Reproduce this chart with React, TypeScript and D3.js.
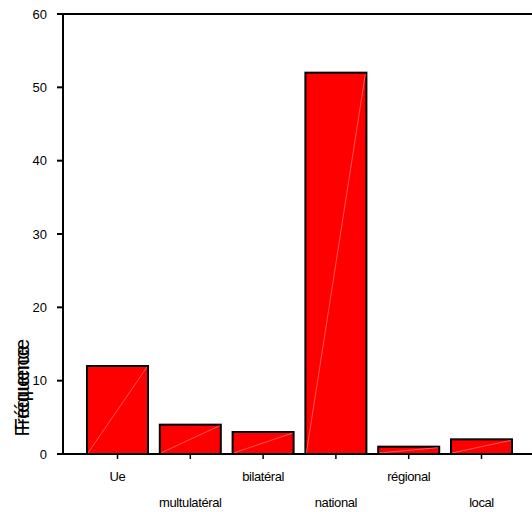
import React from "react";
import * as d3 from "d3";

const categories = ["Ue", "multulatéral", "bilatéral", "national", "régional", "local"];
const values = [12, 4, 3, 52, 1, 2];
const yTicks = [0, 10, 20, 30, 40, 50, 60];
const yTitle = "Fréquence";

export default function App() {
  const W = 532, H = 512;
  const x0 = 63, x1 = 532, yTop = 14, yBottom = 454;
  const y = d3.scaleLinear().domain([0, 60]).range([yBottom, yTop]);
  const x = d3.scaleBand<string>().domain(categories).range([81.1, 517.9]).paddingInner(0.162).paddingOuter(0.081);
  const font = "Arial, 'Liberation Sans', sans-serif";
  return (
    <svg width={W} height={H} style={{ position: "absolute", left: 0, top: 0, background: "#fff" }}>
      {/* top frame line */}
      <line x1={x0} x2={x1} y1={yTop} y2={yTop} stroke="#000" strokeWidth={2} />
      {/* bars */}
      {categories.map((c, i) => {
        const bx = x(c)!;
        const bw = x.bandwidth();
        const by = y(values[i]);
        return (
          <g key={c}>
            <rect x={bx} y={by} width={bw} height={yBottom - by} fill="#ff0000" stroke="#000" strokeWidth={2} />
            <line x1={bx + 1} y1={yBottom - 1} x2={bx + bw - 1} y2={by + 1} stroke="#ff9090" strokeWidth={0.6} />
          </g>
        );
      })}
      {/* y axis */}
      <line x1={x0} x2={x0} y1={yTop - 1} y2={yBottom + 1} stroke="#000" strokeWidth={2} />
      {yTicks.map((t) => (
        <g key={t}>
          <line x1={x0 - 6} x2={x0} y1={y(t)} y2={y(t)} stroke="#000" strokeWidth={2} />
          <text x={47} y={y(t)} dy="0.36em" textAnchor="end" fontFamily={font} fontSize={13} fill="#000">{t}</text>
        </g>
      ))}
      {/* x axis */}
      <line x1={x0} x2={x1} y1={yBottom} y2={yBottom} stroke="#000" strokeWidth={2} />
      {categories.map((c, i) => {
        const cx = x(c)! + x.bandwidth() / 2;
        return (
          <g key={c}>
            <line x1={cx} x2={cx} y1={yBottom} y2={yBottom + 5} stroke="#000" strokeWidth={1.5} />
            <text x={cx} y={i % 2 === 0 ? 481 : 507} textAnchor="middle" fontFamily={font} fontSize={13} letterSpacing={-0.4} fill="#000">{c}</text>
          </g>
        );
      })}
      {/* y title, doubled as in the reference */}
      <text transform="translate(29,391) rotate(-90)" textAnchor="middle" fontFamily={font} fontSize={20} letterSpacing={-0.5} fill="#000">{yTitle}</text>
      <text transform="translate(29,385) rotate(-90)" textAnchor="middle" fontFamily={font} fontSize={20} letterSpacing={-0.5} fill="#000">{yTitle}</text>
    </svg>
  );
}
